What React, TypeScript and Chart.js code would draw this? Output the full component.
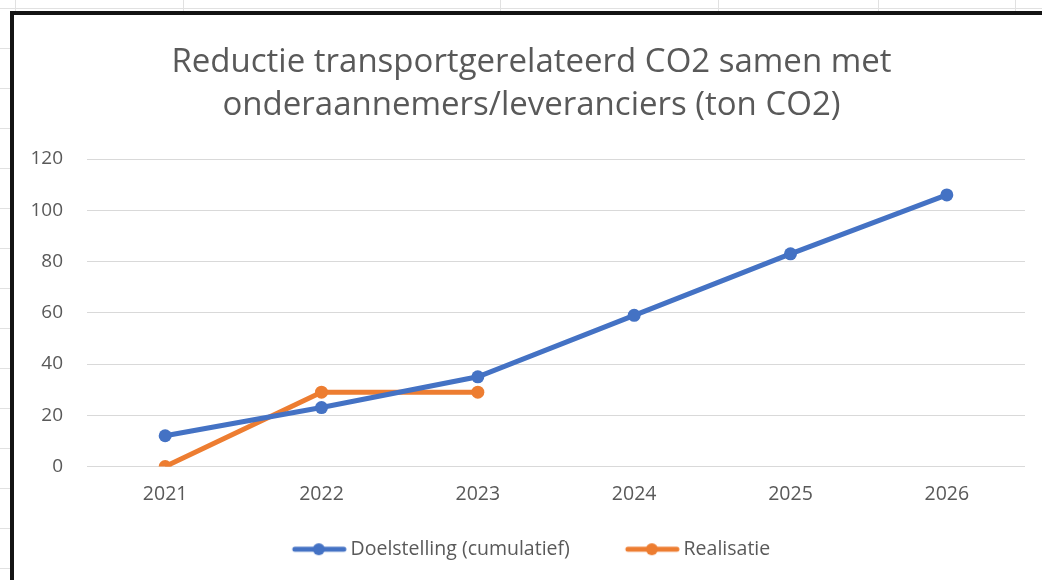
import React, { useEffect, useRef } from 'react';
import { Chart, registerables } from 'chart.js';

Chart.register(...registerables);

const years = ['2021', '2022', '2023', '2024', '2025', '2026'];
const doelstelling = [12, 23, 35, 59, 83, 106];
const realisatie = [0, 29, 29];
const seriesNames = ['Doelstelling (cumulatief)', 'Realisatie'];
const titleLines = ['Reductie transportgerelateerd CO2 samen met', 'onderaannemers/leveranciers (ton CO2)'];
const yMin = 0;
const yMax = 120;
const yStep = 20;

const BLUE = '#4472C4';
const ORANGE = '#ED7D31';
const TEXT = '#595959';
const GRID = '#d9d9d9';
const FONT = '"Open Sans", "DejaVu Sans", sans-serif';

// legend symbol: a short line with a dot, drawn in the right part of a wider transparent image
function makeMarker(color: string): HTMLCanvasElement {
  const c = document.createElement('canvas');
  c.width = 100;
  c.height = 14;
  const ctx = c.getContext('2d')!;
  ctx.strokeStyle = color;
  ctx.lineWidth = 5;
  ctx.lineCap = 'round';
  ctx.beginPath();
  ctx.moveTo(44, 7);
  ctx.lineTo(93, 7);
  ctx.stroke();
  ctx.fillStyle = color;
  ctx.beginPath();
  ctx.arc(68, 7, 6, 0, Math.PI * 2);
  ctx.fill();
  return c;
}

// nudges the title and legend blocks sideways to centre them like the reference
const centerShift = {
  id: 'centerShift',
  afterLayout(chart: any) {
    if (chart.titleBlock) {
      chart.titleBlock.left += 6;
      chart.titleBlock.right += 6;
    }
    if (chart.legend) {
      chart.legend.left -= 10;
      chart.legend.right -= 10;
    }
  },
};

const sheetRows = [8, 48, 88, 128, 168, 208, 248, 288, 328, 368, 408, 448, 488, 528, 568];
const sheetCols = [15, 183, 500, 718, 878, 1015];

export default function App() {
  const ref = useRef<HTMLCanvasElement | null>(null);

  useEffect(() => {
    document.body.style.margin = '0';
    const markers = [makeMarker(BLUE), makeMarker(ORANGE)];
    const chart = new Chart(ref.current!, {
      type: 'line',
      data: {
        labels: years,
        datasets: [
          {
            label: seriesNames[0],
            data: doelstelling,
            borderColor: BLUE,
            backgroundColor: BLUE,
            borderWidth: 5,
            pointRadius: 6.5,
            pointBackgroundColor: BLUE,
            pointBorderWidth: 0,
            tension: 0,
          },
          {
            label: seriesNames[1],
            data: realisatie,
            borderColor: ORANGE,
            backgroundColor: ORANGE,
            borderWidth: 5,
            pointRadius: 6.5,
            pointBackgroundColor: ORANGE,
            pointBorderWidth: 0,
            tension: 0,
          },
        ],
      },
      plugins: [centerShift],
      options: {
        animation: false,
        responsive: false,
        layout: { padding: { left: 12, right: 17, top: 0, bottom: 11 } },
        plugins: {
          title: {
            display: true,
            text: titleLines,
            color: TEXT,
            font: { family: FONT, size: 33, weight: 'normal', lineHeight: 43 / 33 },
            padding: { top: 26, bottom: 32 },
          },
          legend: {
            position: 'bottom',
            labels: {
              color: TEXT,
              font: { family: FONT, size: 19.5 },
              usePointStyle: true,
              pointStyleWidth: 80,
              padding: 24,
              generateLabels: (ch: any) =>
                Chart.defaults.plugins.legend.labels
                  .generateLabels(ch)
                  .map((l: any, i: number) => ({ ...l, pointStyle: markers[i] })),
            },
          },
          tooltip: { enabled: false },
        },
        scales: {
          x: {
            offset: true,
            grid: { display: false, drawTicks: false },
            border: { display: false },
            ticks: { color: TEXT, font: { family: FONT, size: 19.5 }, padding: 16 },
            afterFit: (s: any) => {
              s.height = 49;
            },
          },
          y: {
            min: yMin,
            max: yMax,
            grid: { color: GRID, lineWidth: 1, drawTicks: false },
            border: { display: false },
            ticks: { stepSize: yStep, color: TEXT, font: { family: FONT, size: 19 }, padding: 24 },
            afterFit: (s: any) => {
              s.width = 61;
            },
          },
        },
      },
    });
    return () => chart.destroy();
  }, []);

  return (
    <div style={{ position: 'fixed', left: 0, top: 0, width: 1042, height: 580, overflow: 'hidden', background: '#fff' }}>
      {sheetRows.map((y) => (
        <div key={'r' + y} style={{ position: 'absolute', left: 0, top: y, width: y < 11 ? 1042 : 10, height: 1, background: '#e1e1e1' }} />
      ))}
      {sheetCols.map((x) => (
        <div key={'c' + x} style={{ position: 'absolute', left: x, top: 0, width: 1, height: 11, background: '#e1e1e1' }} />
      ))}
      <div
        style={{
          position: 'absolute',
          left: 10,
          top: 11,
          width: 1040,
          height: 580,
          borderTop: '4px solid #141414',
          borderLeft: '4px solid #141414',
          background: '#fff',
        }}
      >
        <canvas ref={ref} width={1028} height={565} style={{ display: 'block' }} />
      </div>
    </div>
  );
}
